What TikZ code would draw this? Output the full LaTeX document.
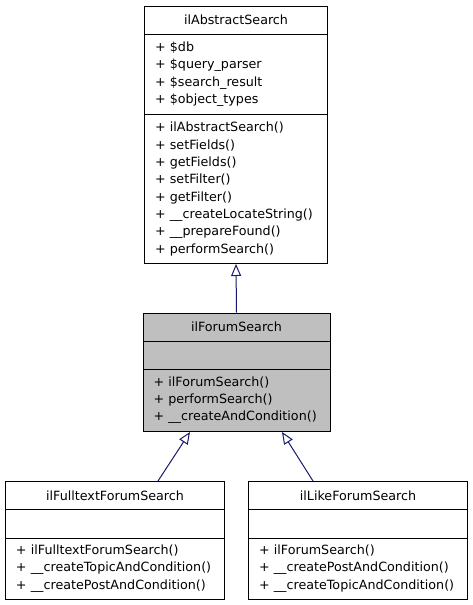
\documentclass[tikz,border=0pt]{standalone}
\usepackage{fontspec}
\setmainfont{DejaVu Sans}
\usetikzlibrary{arrows.meta}
\definecolor{edgeblue}{HTML}{191970}
\definecolor{hlgray}{HTML}{BFBFBF}
\tikzset{
  comp/.style={draw=black, line width=1pt, anchor=north west, inner xsep=10.5pt, inner ysep=0pt,
    font=\fontsize{12.7}{17.3}\selectfont, align=left},
  title/.style={comp, align=center},
  inh/.style={draw=edgeblue, line width=1pt, -{Triangle[open, length=12pt, width=10pt, fill=white]}},
}
\begin{document}
\begin{tikzpicture}[x=1pt, y=-1pt]
\useasboundingbox (0,0) rectangle (472,605);
% ilAbstractSearch
\node[title, minimum width=183pt, text width=162pt, minimum height=27.5pt] (absT) at (144,6) {ilAbstractSearch};
\node[comp, minimum width=183pt, text width=162pt, minimum height=80.5pt] (absA) at (144,33.5) {+ \$db\\+ \$query\_parser\\+ \$search\_result\\+ \$object\_types};
\node[comp, minimum width=183pt, text width=162pt, minimum height=149pt] (absM) at (144,114) {+ ilAbstractSearch()\\+ setFields()\\+ getFields()\\+ setFilter()\\+ getFilter()\\+ \_\_createLocateString()\\+ \_\_prepareFound()\\+ performSearch()};
% ilForumSearch
\node[title, fill=hlgray, minimum width=187pt, text width=166pt, minimum height=28pt] (forT) at (142.5,312.5) {ilForumSearch};
\node[comp, fill=hlgray, minimum width=187pt, text width=166pt, minimum height=28pt] (forA) at (142.5,340.5) {};
\node[comp, fill=hlgray, minimum width=187pt, text width=166pt, minimum height=62.5pt] (forM) at (142.5,368.5) {+ ilForumSearch()\\+ performSearch()\\+ \_\_createAndCondition()};
% ilFulltextForumSearch
\node[title, minimum width=219pt, text width=198pt, minimum height=28pt] (ftT) at (5,481) {ilFulltextForumSearch};
\node[comp, minimum width=219pt, text width=198pt, minimum height=28.5pt] (ftA) at (5,509) {};
\node[comp, minimum width=219pt, text width=198pt, minimum height=61pt] (ftM) at (5,537.5) {+ ilFulltextForumSearch()\\+ \_\_createTopicAndCondition()\\+ \_\_createPostAndCondition()};
% ilLikeForumSearch
\node[title, minimum width=219pt, text width=198pt, minimum height=28pt] (lkT) at (248,481) {ilLikeForumSearch};
\node[comp, minimum width=219pt, text width=198pt, minimum height=28.5pt] (lkA) at (248,509) {};
\node[comp, minimum width=219pt, text width=198pt, minimum height=61pt] (lkM) at (248,537.5) {+ ilForumSearch()\\+ \_\_createPostAndCondition()\\+ \_\_createTopicAndCondition()};
% inheritance
\draw[inh] (forT.north) -- (absM.south);
\draw[inh] ([xshift=153pt]ftT.north west) -- ([xshift=47.5pt]forM.south west);
\draw[inh] ([xshift=65pt]lkT.north west) -- ([xshift=139.5pt]forM.south west);
\end{tikzpicture}
\end{document}
